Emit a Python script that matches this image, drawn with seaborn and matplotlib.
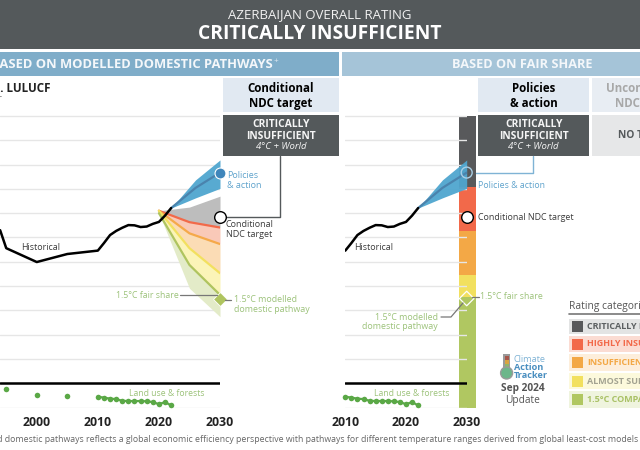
import matplotlib
matplotlib.use("Agg")
import matplotlib.pyplot as plt
from matplotlib.patches import Rectangle, Circle
import numpy as np
import pandas as pd
import seaborn as sns

# ---------- data (MtCO2e/yr) ----------
hist_years = [1994, 1995, 2000, 2005, 2010, 2011, 2012, 2013, 2014, 2015, 2016, 2017, 2018, 2019, 2020, 2021, 2022]
hist_vals = [63, 55.6, 49.9, 53.2, 54.6, 57.7, 61, 62.7, 64, 65.1, 65, 64.3, 64.5, 65.6, 66.4, 69, 72.1]
land_years = [1995, 2000, 2005, 2010, 2011, 2012, 2013, 2014, 2015, 2016, 2017, 2018, 2019, 2020, 2021, 2022]
land_vals = [-2.5, -5, -5.3, -5.5, -5.9, -6.3, -6.5, -7.2, -7.3, -7.3, -7.3, -7.4, -7.7, -8.6, -7.7, -9.1]
fan_years = [2020, 2025, 2030]
fan_top = [71, 72.5, 77]
fan_red = [71, 66.3, 64.1]
fan_orange = [71, 61.7, 57.3]
fan_yellow = [71, 55.6, 45.3]
fan_green = [70, 48.7, 36.4]
fan_low = [70, 39.1, 27.4]
pol_years = [2022, 2026, 2030]
pol_high = [72.1, 83.7, 91.9]
pol_mid = [72.1, 80.4, 86.7]
pol_low = [72.1, 76.3, 80.2]
ndc_value = 68.4
pol_value = 86.7
modelled_value = 34.7
fair_value = 34.9
band_edges = [-10, 35.4, 44.6, 62.7, 80.7, 109.9]
band_colors = ["#b0c761", "#f2e05f", "#f3a846", "#f2694a", "#58595b"]
left_ticks = [2000, 2010, 2020, 2030]
right_ticks = [2010, 2020, 2030]
y_ticks = list(range(-10, 120, 10))

legend_labels = ["CRITICALLY INSUFFICIENT", "HIGHLY INSUFFICIENT", "INSUFFICIENT", "ALMOST SUFFICIENT", "1.5°C COMPATIBLE"]
legend_swatch = ["#58595b", "#f2694a", "#f3a846", "#f2e05f", "#b0c761"]
legend_text = ["#5c6062", "#f2694a", "#f3a846", "#a3a392", "#a9c166"]
legend_bg = ["#e3e4e4", "#fbdcd3", "#fdeedb", "#fcf9dc", "#eff4de"]

# ---------- style ----------
sns.set_style("white")
plt.rcParams["font.family"] = ["Open Sans", "DejaVu Sans"]
W, H = 640, 450
DARK = "#54595b"
BLUE = "#5fa3cc"
GREEN = "#9cc27a"
TXT = "#3c3c3c"

fig = plt.figure(figsize=(W / 100, H / 100), dpi=100, facecolor="white")


def rect_px(x0, x1, ytop, ybot):
    return [x0 / W, 1 - ybot / H, (x1 - x0) / W, (ybot - ytop) / H]


bg = fig.add_axes([0, 0, 1, 1], zorder=0)
bg.set_xlim(0, W); bg.set_ylim(H, 0); bg.axis("off")
top = fig.add_axes([0, 0, 1, 1], zorder=5)
top.set_xlim(0, W); top.set_ylim(H, 0); top.axis("off"); top.patch.set_alpha(0)


def box(a, x0, x1, y0, y1, c, z=1):
    a.add_patch(Rectangle((x0, y0), x1 - x0, y1 - y0, fc=c, ec="none", zorder=z))


def t(x, y, s, size=6.3, c=TXT, ha="left", w="normal", st="normal", ls=1.05, a=None):
    (a or top).text(x, y, s, fontsize=size, color=c, ha=ha, va="center", weight=w, style=st, linespacing=ls)


# headers
box(bg, 0, W, 0, 49.3, DARK)
box(bg, 0, 339, 51.7, 75.7, "#7fadc9")
box(bg, 341.7, W, 51.7, 75.7, "#a5c4d8")
t(320, 15, "AZERBAIJAN OVERALL RATING", 9.5, "#f2f2f2", "center")
t(320, 34, "CRITICALLY INSUFFICIENT", 13.9, "white", "center", "bold")
t(273, 64, "BASED ON MODELLED DOMESTIC PATHWAYS", 9.4, "#f4f7fa", "right", "bold")
t(274, 62, "+", 6, "#e5eef5")
t(522.7, 64, "BASED ON FAIR SHARE", 9.2, "#f4f7fa", "center", "bold")

# column boxes
box(bg, 223.3, 339, 78, 112, "#e1e9f2")
box(bg, 478.3, 589.3, 78, 112, "#e1e9f2")
box(bg, 591.7, W, 78, 112, "#e8edf3")
box(bg, 223.3, 339, 114.7, 155.7, DARK)
box(bg, 478.3, 589.3, 114.7, 155.7, DARK)
box(bg, 591.7, W, 114.7, 155.7, "#e6e7e8")
t(281, 96, "Conditional\nNDC target", 8.3, "black", "center", "bold", ls=1.15)
t(533.7, 96, "Policies\n& action", 8.3, "black", "center", "bold", ls=1.15)
t(647, 96, "Unconditional\nNDC target", 8.3, "#a8a8a8", "center", "bold", ls=1.15)
for cx in (281, 533.7):
    t(cx, 130.5, "CRITICALLY\nINSUFFICIENT", 7.4, "#f5f5f5", "center", "bold", ls=1.05)
    t(cx, 146.5, "4°C + World", 6.8, "#f5f5f5", "center", st="italic")
t(647, 136, "NO TARGET", 7.4, "#55595b", "center", "bold")

# connectors
bg.plot([225, 280, 280], [217, 217, 155.7], color=DARK, lw=1, zorder=2)
bg.plot([473, 533.3, 533.3], [172.5, 172.5, 155.7], color="#7fb3d5", lw=1, zorder=2)

# panels
axL = fig.add_axes(rect_px(0, 220, 114, 408), zorder=2)
axR = fig.add_axes(rect_px(345.3, 466.7, 114, 408), zorder=2)
hist = pd.DataFrame({"year": hist_years, "value": hist_vals})
land = pd.DataFrame({"year": land_years, "value": land_vals})
land_recent = land[land.year >= 2010]

for ax, xmin, ticks in ((axL, 1993.98, left_ticks), (axR, 2010, right_ticks)):
    ax.patch.set_alpha(0)
    ax.set_xlim(xmin, 2030)
    ax.set_ylim(-10.15, 110.8)
    ax.set_yticks(y_ticks)
    ax.set_yticklabels([])
    ax.set_xticks(ticks)
    ax.set_xticklabels([str(v) for v in ticks], fontsize=8.8, weight="bold", color="#222222")
    ax.tick_params(axis="both", length=0, pad=6)
    ax.grid(axis="y", color="#e6e6e6", lw=1, zorder=0.5)
    ax.grid(axis="x", visible=False)
    ax.set_axisbelow(True)
    sns.despine(ax=ax, left=True, bottom=True)
    ax.axhline(0, color="black", lw=1.8, zorder=1.5)

# right rating bar
for lo, hi, c in zip(band_edges[:-1], band_edges[1:], band_colors):
    axR.bar(2030.1, hi - lo, bottom=lo, width=2.75, color=c, zorder=0.4, clip_on=False, lw=0)

# left fans
axL.fill_between(fan_years, fan_top, fan_red, color="#bdbdbd", lw=0, zorder=2)
axL.fill_between(fan_years, fan_red, fan_orange, color="#f9c9b8", lw=0, zorder=2)
axL.fill_between(fan_years, fan_orange, fan_yellow, color="#fbdcb5", lw=0, zorder=2)
axL.fill_between(fan_years, fan_yellow, fan_green, color="#fbf4b8", lw=0, zorder=2)
axL.fill_between(fan_years, fan_green, fan_low, color="#e3ebc8", lw=0, zorder=2)
for vals, c in ((fan_red, "#f26a4a"), (fan_orange, "#f5a94a"), (fan_yellow, "#f2e05f"), (fan_green, "#afc45f")):
    sns.lineplot(x=fan_years, y=vals, ax=axL, color=c, lw=1.6, zorder=3, errorbar=None)

# policy fans + historical + land use
for ax, dots in ((axL, land), (axR, land_recent)):
    ax.fill_between(pol_years, pol_high, pol_low, color="#4fa6cf", lw=0, zorder=3.5, alpha=0.95, clip_on=False)
    sns.lineplot(x=pol_years, y=pol_mid, ax=ax, color="#4a83ad", lw=1.6, zorder=3.6, errorbar=None)
    sns.lineplot(data=hist, x="year", y="value", ax=ax, color="black", lw=1.8, zorder=4, errorbar=None)
    sns.lineplot(data=land_recent, x="year", y="value", ax=ax, color="#5aa846", lw=1.6, zorder=4, errorbar=None)
    sns.scatterplot(data=dots, x="year", y="value", ax=ax, color="#5aa846", s=16, lw=0, zorder=4.2, clip_on=False)
    ax.set_xlabel(""); ax.set_ylabel("")
axR.set_xlim(2010, 2030)
axL.set_xlim(1993.98, 2030)

# markers
axL.scatter([2030], [pol_value], s=62, fc="#3f86bb", ec="white", lw=0.8, zorder=6, clip_on=False)
axL.scatter([2030], [ndc_value], s=70, fc="white", ec="black", lw=1, zorder=6, clip_on=False)
axL.scatter([2030], [modelled_value], s=50, marker="D", fc="#afc45f", ec="white", lw=0.6, zorder=6, clip_on=False)
axR.scatter([2030], [pol_value], s=62, fc="none", ec="#a9cfe6", lw=1, zorder=6, clip_on=False)
axR.scatter([2030], [ndc_value], s=70, fc="white", ec="black", lw=1, zorder=6, clip_on=False)
axR.scatter([2030], [fair_value], s=55, marker="D", fc="none", ec="white", lw=0.9, zorder=6, clip_on=False)

# panel labels
t(50, 88, "Excl. LULUCF", 8.4, "#222222", "right", "bold")
t(2.5, 98, "MtCO₂e/yr", 6, "#444444", "right")
t(227, 180.5, "Policies\n& action", 6.5, BLUE)
t(226, 229.5, "Conditional\nNDC target", 6.5, TXT)
t(21, 247, "Historical", 6.4, TXT)
t(116, 295, "1.5°C fair share", 6.3, GREEN)
t(234, 304.5, "1.5°C modelled\ndomestic pathway", 6.4, GREEN)
t(129, 394, "Land use & forests", 6.2, GREEN)
t(477.7, 186, "Policies & action", 6.3, BLUE)
t(477.7, 217.5, "Conditional NDC target", 6.4, TXT)
t(354, 247, "Historical", 6.4, TXT)
t(479.7, 296.5, "1.5°C fair share", 6.3, GREEN)
t(438, 322, "1.5°C modelled\ndomestic pathway", 6.4, GREEN, "right")
t(374, 393, "Land use & forests", 6.2, GREEN)
top.plot([180, 217], [295, 295], color="#777777", lw=0.9)
top.plot([225, 231], [299.5, 299.5], color="#777777", lw=0.9)
top.plot([472, 479], [297, 297], color="#777777", lw=0.9)
top.plot([441, 451, 463], [317, 317, 303], color="#777777", lw=0.9)

# legend panel
t(569, 306, "Rating categories", 7.4, "#555555")
bg.plot([569, W], [314.3, 314.3], color="#777777", lw=1.2, zorder=2)
rows = [(319, 334), (336, 352), (354, 370.7), (373, 389), (391, 407.7)]
for (y0, y1), lab, sw, tc, rbg in zip(rows, legend_labels, legend_swatch, legend_text, legend_bg):
    box(bg, 569, W, y0, y1, rbg)
    ym = (y0 + y1) / 2
    box(bg, 571.5, 583, ym - 5.5, ym + 5.5, sw, 2)
    t(587, ym, lab, 6.5, tc, w="bold")

# logo
box(bg, 503, 510, 354, 370, "#9a9a9a", 2)
box(bg, 504.5, 508.5, 355.5, 360, "#a8574a", 3)
box(bg, 504.5, 508.5, 360, 364, "#d9a441", 3)
box(bg, 504.5, 508.5, 364, 370, "#8fb56a", 3)
bg.add_patch(Circle((506.6, 373), 6, fc="#6cb68a", ec="#9a9a9a", lw=1, zorder=3))
t(514, 360, "Climate", 6.6, "#7fb3d5")
t(514, 367.5, "Action", 6.6, "#4a8fc0", w="bold")
t(514, 375, "Tracker", 6.6, "#4a8fc0", w="bold")
t(523, 389, "Sep 2024", 7.3, "#555555", "center", "bold")
t(523, 401, "Update", 7.3, "#555555", "center")

# footer
t(638, 440, "Modelled domestic pathways reflects a global economic efficiency perspective with pathways for different temperature ranges derived from global least-cost models",
  6.3, "#666666", "right")

fig.savefig("out.png", dpi=100, facecolor="white")
